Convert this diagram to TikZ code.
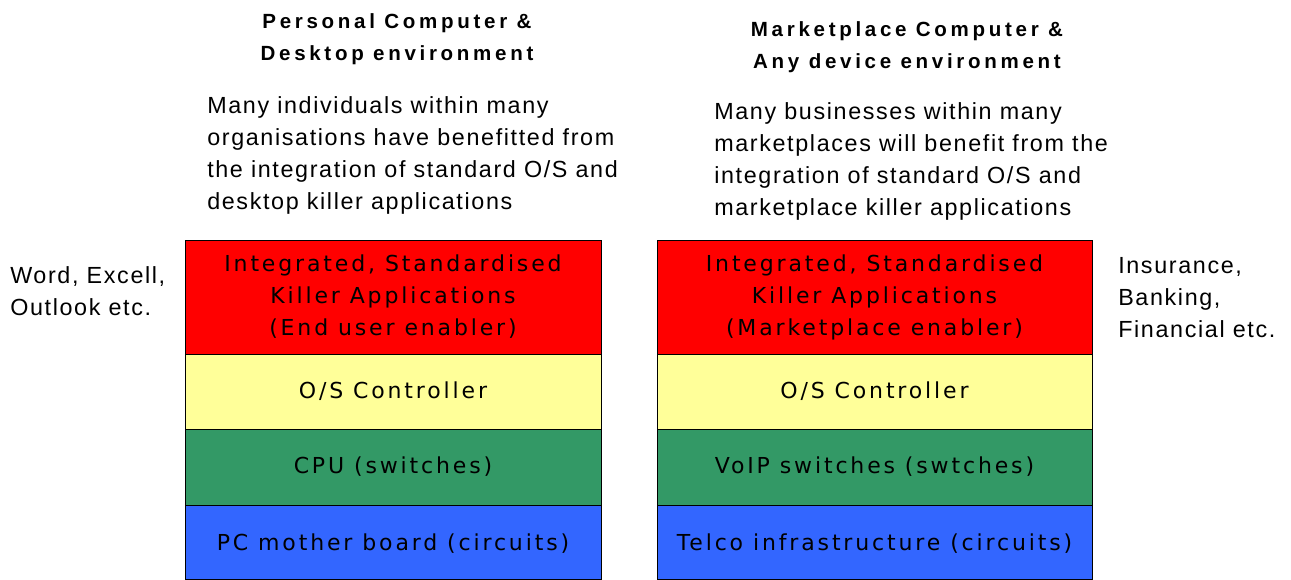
\documentclass[tikz,border=0pt]{standalone}
\usepackage{fontspec}
\setmainfont[LetterSpace=7]{Liberation Sans}
\newfontfamily\layerfont[LetterSpace=13]{DejaVu Sans}
\newfontfamily\headfont[LetterSpace=18]{Liberation Sans}
\usepackage{tikz}
\usetikzlibrary{positioning}
\definecolor{appred}{RGB}{255,0,0}
\definecolor{osyellow}{RGB}{255,255,153}
\definecolor{cpugreen}{RGB}{51,153,102}
\definecolor{boardblue}{RGB}{51,102,255}
\tikzset{
    layer/.style={
        draw,
        line width=0.6pt,
        outer sep=0pt,
        inner sep=0pt,
        align=center,
        font=\layerfont\fontsize{16.5pt}{24pt}\selectfont
    },
    leftlayer/.style={
        layer,
        minimum width=312pt
    },
    rightlayer/.style={
        layer,
        minimum width=326.25pt
    },
    heading/.style={
        align=center,
        inner sep=0pt,
        font=\headfont\bfseries\fontsize{15.4pt}{24pt}\selectfont
    },
    blurb/.style={
        align=left,
        anchor=west,
        inner sep=0pt,
        font=\fontsize{17.5pt}{24pt}\selectfont
    }
}

\begin{document}
\begin{tikzpicture}[x=0.75pt, y=-0.75pt, node distance=0pt]
        \useasboundingbox (0,0) rectangle (1291,579);

        \node[heading] (lhead) at (397,39) {Personal Computer \&\\Desktop environment};
        \node[heading] (rhead) at (907,47) {Marketplace Computer \&\\Any device environment};

        \node[blurb] (lblurb) at (207,155) {Many individuals within many\\organisations have benefitted from\\the integration of standard O/S and\\desktop killer applications};
        \node[blurb] (rblurb) at (714,161) {Many businesses within many\\marketplaces will benefit from the\\integration of standard O/S and\\marketplace killer applications};

        \node[blurb] (lside) at (10,291) {Word, Excell,\\Outlook etc.};
        \node[blurb] (rside) at (1118,298) {Insurance,\\Banking,\\Financial etc.};

        \node[leftlayer, fill=appred, minimum height=85.5pt, anchor=north west] (lapps) at (185,240) {Integrated, Standardised\\Killer Applications\\(End user enabler)};
        \node[leftlayer, fill=osyellow, minimum height=56.25pt, below=of lapps] (los) {O/S Controller};
        \node[leftlayer, fill=cpugreen, minimum height=57pt, below=of los] (lcpu) {CPU (switches)};
        \node[leftlayer, fill=boardblue, minimum height=56pt, below=of lcpu, text depth=-10pt] (lboard) {PC mother board (circuits)};

        \node[rightlayer, fill=appred, minimum height=85.5pt, anchor=north west] (rapps) at (657,240) {Integrated, Standardised\\Killer Applications\\(Marketplace enabler)};
        \node[rightlayer, fill=osyellow, minimum height=56.25pt, below=of rapps] (ros) {O/S Controller};
        \node[rightlayer, fill=cpugreen, minimum height=57pt, below=of ros] (rvoip) {VoIP switches (swtches)};
        \node[rightlayer, fill=boardblue, minimum height=56pt, below=of rvoip, text depth=-10pt] (rtelco) {Telco infrastructure (circuits)};
    \end{tikzpicture}
\end{document}
